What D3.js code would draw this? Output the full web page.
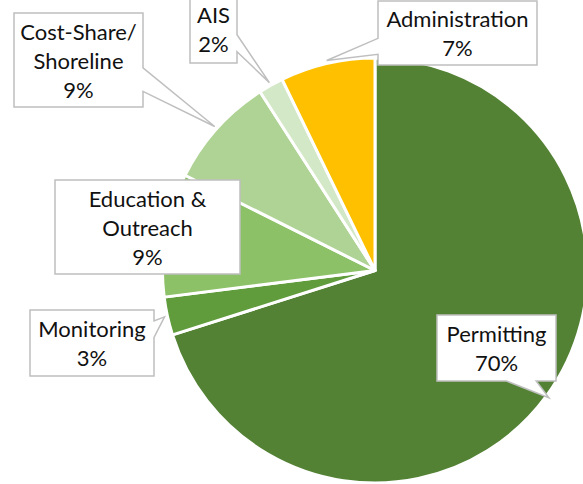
<!DOCTYPE html>
<html>
<head>
<meta charset="utf-8">
<script src="https://cdn.jsdelivr.net/npm/d3@7"></script>
<style>
  html, body { margin: 0; padding: 0; background: #fff; }
  svg { display: block; }
</style>
</head>
<body>
<svg id="chart" width="583" height="484"></svg>
<script>
// ---- data ----
const categories = ["Permitting", "Monitoring", "Education & Outreach", "Cost-Share/ Shoreline", "AIS", "Administration"];
const values = [70.1, 2.9, 9.4, 8.5, 1.9, 7.2];
const labelLines = [["Permitting"], ["Monitoring"], ["Education &", "Outreach"], ["Cost-Share/", "Shoreline"], ["AIS"], ["Administration"]];
const colors = ["#548235", "#609C3C", "#8DC167", "#AED394", "#D3E8C6", "#FFC000"];

// ---- layout (label boxes: x, y, w, h) ----
const boxes = [
  {x: 437, y: 315, w: 119, h: 66},
  {x: 30,  y: 310, w: 124, h: 66},
  {x: 55,  y: 180, w: 185, h: 94},
  {x: 14,  y: 13,  w: 129, h: 94},
  {x: 190, y: -5,  w: 47,  h: 68},
  {x: 378, y: 1,   w: 159, h: 64}
];

const cx = 375, cy = 270.5, R = 212.5;
const lineH = 29;

const svg = d3.select("#chart");
const g = svg.append("g").attr("transform", `translate(${cx},${cy})`);

const pie = d3.pie().sort(null).startAngle(0).endAngle(2 * Math.PI);
const arcs = pie(values);
const arc = d3.arc().innerRadius(0).outerRadius(R);
const tipArc = d3.arc().innerRadius(R + 3).outerRadius(R + 3);

g.selectAll("path.slice").data(arcs).enter().append("path")
  .attr("class", "slice")
  .attr("d", arc)
  .attr("fill", (d, i) => colors[i])
  .attr("stroke", "#fff")
  .attr("stroke-width", 3)
  .attr("stroke-linejoin", "round");

// Excel-like wedgeRectCallout path
function calloutPath(b, tip) {
  const {x, y, w, h} = b;
  const tx = tip[0], ty = tip[1];
  const inside = tx >= x && tx <= x + w && ty >= y && ty <= y + h;
  if (inside) {
    return `M${x},${y}H${x + w}V${y + h}H${x}Z`;
  }
  const dx = (tx - (x + w / 2)) / w;
  const dy = (ty - (y + h / 2)) / h;
  if (Math.abs(dx) > Math.abs(dy)) {
    const y1 = dy > 0 ? y + h * 7 / 12 : y + h * 2 / 12;
    const y2 = dy > 0 ? y + h * 10 / 12 : y + h * 5 / 12;
    if (dx > 0) {
      return `M${x},${y}H${x + w}V${y1}L${tx},${ty}L${x + w},${y2}V${y + h}H${x}Z`;
    } else {
      return `M${x},${y}H${x + w}V${y + h}H${x}V${y2}L${tx},${ty}L${x},${y1}Z`;
    }
  } else {
    const x1 = dx > 0 ? x + w * 7 / 12 : x + w * 2 / 12;
    const x2 = dx > 0 ? x + w * 10 / 12 : x + w * 5 / 12;
    if (dy > 0) {
      return `M${x},${y}H${x + w}V${y + h}H${x2}L${tx},${ty}L${x1},${y + h}H${x}Z`;
    } else {
      return `M${x},${y}H${x1}L${tx},${ty}L${x2},${y}H${x + w}V${y + h}H${x}Z`;
    }
  }
}

const labels = svg.append("g");
arcs.forEach((d, i) => {
  const c = tipArc.centroid(d);
  const tip = [cx + c[0], cy + c[1]];
  const b = boxes[i];
  labels.append("path")
    .attr("d", calloutPath(b, tip))
    .attr("fill", "#fff")
    .attr("stroke", "#BFBFBF")
    .attr("stroke-width", 1.5)
    .attr("stroke-linejoin", "miter");
  const lines = labelLines[i].concat([Math.round(values[i]) + "%"]);
  const totalH = lines.length * lineH;
  const startBase = b.y + b.h / 2 - totalH / 2 + lineH * 0.8;
  const t = labels.append("text")
    .attr("text-anchor", "middle")
    .attr("font-family", "Lato, 'Open Sans', sans-serif")
    .attr("font-size", 22)
    .attr("fill", "#111");
  lines.forEach((ln, k) => {
    t.append("tspan")
      .attr("x", b.x + b.w / 2)
      .attr("y", startBase + k * lineH)
      .text(ln);
  });
});
</script>
</body>
</html>
